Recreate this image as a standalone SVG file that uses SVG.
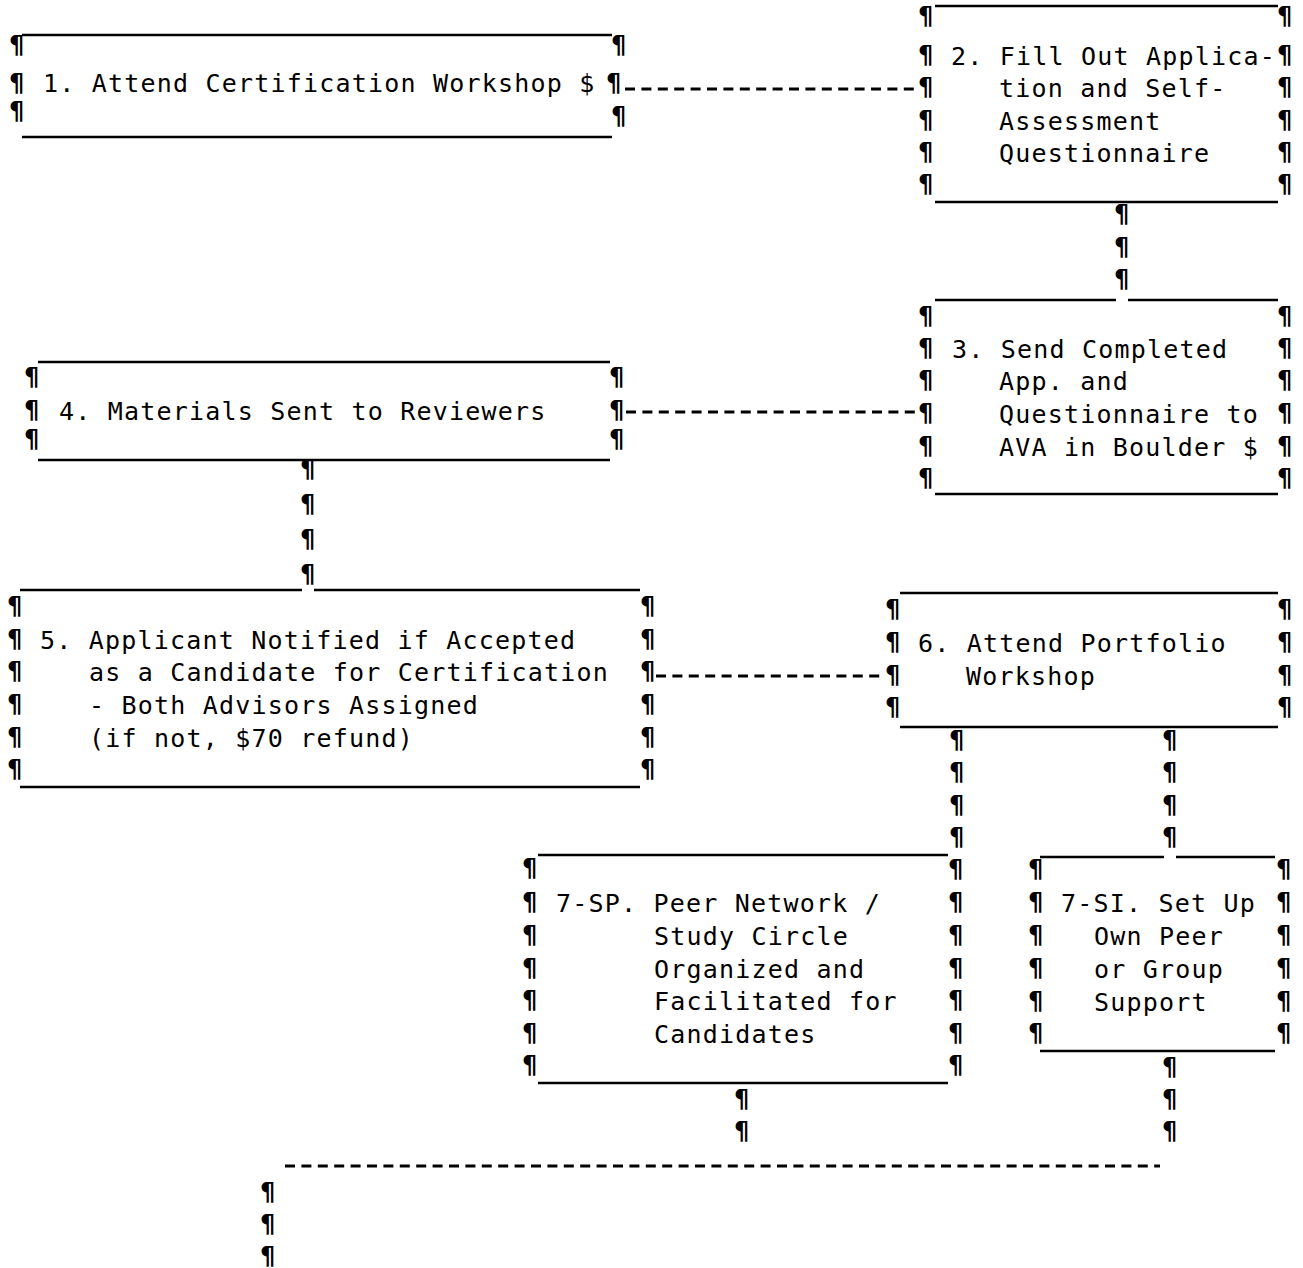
<svg xmlns="http://www.w3.org/2000/svg" width="1303" height="1268" viewBox="0 0 1303 1268">
<style>
text{font-family:"DejaVu Sans Mono","Liberation Mono",monospace;font-size:25px;fill:#000;}
.t{letter-spacing:1.2px;}
.p{text-anchor:middle;font-weight:bold;font-size:24px;}
.r{stroke:#000;stroke-width:2.5;fill:none;}
.d{stroke:#000;stroke-width:3;stroke-dasharray:10 6.4;fill:none;}
</style>
<rect width="1303" height="1268" fill="#fff"/>
<g id="connectors">
<line class="d" x1="625" y1="89" x2="917" y2="89"/>
<line class="d" x1="626" y1="412" x2="917" y2="412"/>
<line class="d" x1="656" y1="676" x2="884" y2="676"/>
<line class="d" x1="285" y1="1166" x2="1160" y2="1166"/>
<text class="p" x="1122" y="222">¶</text><text class="p" x="1122" y="255">¶</text><text class="p" x="1122" y="287">¶</text>
<text class="p" x="308" y="477">¶</text><text class="p" x="308" y="512">¶</text><text class="p" x="308" y="547">¶</text><text class="p" x="308" y="582">¶</text>
<text class="p" x="957" y="748">¶</text><text class="p" x="957" y="780">¶</text><text class="p" x="957" y="813">¶</text><text class="p" x="957" y="845">¶</text>
<text class="p" x="1170" y="748">¶</text><text class="p" x="1170" y="780">¶</text><text class="p" x="1170" y="813">¶</text><text class="p" x="1170" y="845">¶</text>
<text class="p" x="742" y="1107">¶</text><text class="p" x="742" y="1139">¶</text>
<text class="p" x="1170" y="1075">¶</text><text class="p" x="1170" y="1107">¶</text><text class="p" x="1170" y="1139">¶</text>
<text class="p" x="268" y="1200">¶</text><text class="p" x="268" y="1232">¶</text><text class="p" x="268" y="1264">¶</text>
</g>
<g id="node1">
<line class="r" x1="22" y1="35" x2="612" y2="35"/><line class="r" x1="22" y1="137" x2="612" y2="137"/>
<text class="p" x="17" y="53">¶</text><text class="p" x="17" y="91">¶</text><text class="p" x="17" y="119">¶</text>
<text class="p" x="619" y="53">¶</text><text class="p" x="614" y="91">¶</text><text class="p" x="619" y="124">¶</text>
<text class="t" x="43" y="92">1. Attend Certification Workshop $</text>
</g>
<g id="node2">
<line class="r" x1="935" y1="6" x2="1278" y2="6"/><line class="r" x1="935" y1="202" x2="1278" y2="202"/>
<text class="p" x="926" y="24">¶</text><text class="p" x="926" y="63">¶</text><text class="p" x="926" y="95">¶</text><text class="p" x="926" y="128">¶</text><text class="p" x="926" y="160">¶</text><text class="p" x="926" y="192">¶</text>
<text class="p" x="1285" y="24">¶</text><text class="p" x="1285" y="63">¶</text><text class="p" x="1285" y="95">¶</text><text class="p" x="1285" y="128">¶</text><text class="p" x="1285" y="160">¶</text><text class="p" x="1285" y="192">¶</text>
<text class="t" x="951" y="65">2. Fill Out Applica-</text>
<text class="t" x="999" y="97">tion and Self-</text>
<text class="t" x="999" y="130">Assessment</text>
<text class="t" x="999" y="162">Questionnaire</text>
</g>
<g id="node3">
<line class="r" x1="935" y1="300" x2="1116" y2="300"/><line class="r" x1="1128" y1="300" x2="1278" y2="300"/><line class="r" x1="935" y1="494" x2="1278" y2="494"/>
<text class="p" x="926" y="324">¶</text><text class="p" x="926" y="356">¶</text><text class="p" x="926" y="388">¶</text><text class="p" x="926" y="421">¶</text><text class="p" x="926" y="454">¶</text><text class="p" x="926" y="486">¶</text>
<text class="p" x="1285" y="324">¶</text><text class="p" x="1285" y="356">¶</text><text class="p" x="1285" y="388">¶</text><text class="p" x="1285" y="421">¶</text><text class="p" x="1285" y="454">¶</text><text class="p" x="1285" y="486">¶</text>
<text class="t" x="952" y="358">3. Send Completed</text>
<text class="t" x="999" y="390">App. and</text>
<text class="t" x="999" y="423">Questionnaire to</text>
<text class="t" x="999" y="456">AVA in Boulder $</text>
</g>
<g id="node4">
<line class="r" x1="38" y1="362" x2="610" y2="362"/><line class="r" x1="38" y1="460" x2="610" y2="460"/>
<text class="p" x="32" y="385">¶</text><text class="p" x="32" y="418">¶</text><text class="p" x="32" y="447">¶</text>
<text class="p" x="617" y="385">¶</text><text class="p" x="617" y="418">¶</text><text class="p" x="617" y="447">¶</text>
<text class="t" x="59" y="420">4. Materials Sent to Reviewers</text>
</g>
<g id="node5">
<line class="r" x1="20" y1="590" x2="302" y2="590"/><line class="r" x1="314" y1="590" x2="640" y2="590"/><line class="r" x1="20" y1="787" x2="640" y2="787"/>
<text class="p" x="15" y="614">¶</text><text class="p" x="15" y="647">¶</text><text class="p" x="15" y="679">¶</text><text class="p" x="15" y="712">¶</text><text class="p" x="15" y="745">¶</text><text class="p" x="15" y="777">¶</text>
<text class="p" x="648" y="614">¶</text><text class="p" x="648" y="647">¶</text><text class="p" x="648" y="679">¶</text><text class="p" x="648" y="712">¶</text><text class="p" x="648" y="745">¶</text><text class="p" x="648" y="777">¶</text>
<text class="t" x="40" y="649">5. Applicant Notified if Accepted</text>
<text class="t" x="89" y="681">as a Candidate for Certification</text>
<text class="t" x="89" y="714">- Both Advisors Assigned</text>
<text class="t" x="89" y="747">(if not, $70 refund)</text>
</g>
<g id="node6">
<line class="r" x1="900" y1="593" x2="1278" y2="593"/><line class="r" x1="900" y1="727" x2="1278" y2="727"/>
<text class="p" x="893" y="617">¶</text><text class="p" x="893" y="650">¶</text><text class="p" x="893" y="683">¶</text><text class="p" x="893" y="715">¶</text>
<text class="p" x="1285" y="617">¶</text><text class="p" x="1285" y="650">¶</text><text class="p" x="1285" y="683">¶</text><text class="p" x="1285" y="715">¶</text>
<text class="t" x="918" y="652">6. Attend Portfolio</text>
<text class="t" x="966" y="685">Workshop</text>
</g>
<g id="node7sp">
<line class="r" x1="538" y1="855" x2="948" y2="855"/><line class="r" x1="538" y1="1083" x2="948" y2="1083"/>
<text class="p" x="530" y="876">¶</text><text class="p" x="530" y="910">¶</text><text class="p" x="530" y="943">¶</text><text class="p" x="530" y="976">¶</text><text class="p" x="530" y="1008">¶</text><text class="p" x="530" y="1041">¶</text><text class="p" x="530" y="1073">¶</text>
<text class="p" x="956" y="877">¶</text><text class="p" x="956" y="910">¶</text><text class="p" x="956" y="943">¶</text><text class="p" x="956" y="976">¶</text><text class="p" x="956" y="1008">¶</text><text class="p" x="956" y="1041">¶</text><text class="p" x="956" y="1073">¶</text>
<text class="t" x="556" y="912">7-SP. Peer Network /</text>
<text class="t" x="654" y="945">Study Circle</text>
<text class="t" x="654" y="978">Organized and</text>
<text class="t" x="654" y="1010">Facilitated for</text>
<text class="t" x="654" y="1043">Candidates</text>
</g>
<g id="node7si">
<line class="r" x1="1040" y1="857" x2="1164" y2="857"/><line class="r" x1="1176" y1="857" x2="1275" y2="857"/><line class="r" x1="1040" y1="1051" x2="1275" y2="1051"/>
<text class="p" x="1036" y="877">¶</text><text class="p" x="1036" y="910">¶</text><text class="p" x="1036" y="943">¶</text><text class="p" x="1036" y="976">¶</text><text class="p" x="1036" y="1009">¶</text><text class="p" x="1036" y="1041">¶</text>
<text class="p" x="1284" y="877">¶</text><text class="p" x="1284" y="910">¶</text><text class="p" x="1284" y="943">¶</text><text class="p" x="1284" y="976">¶</text><text class="p" x="1284" y="1009">¶</text><text class="p" x="1284" y="1041">¶</text>
<text class="t" x="1061" y="912">7-SI. Set Up</text>
<text class="t" x="1094" y="945">Own Peer</text>
<text class="t" x="1094" y="978">or Group</text>
<text class="t" x="1094" y="1011">Support</text>
</g>
</svg>
